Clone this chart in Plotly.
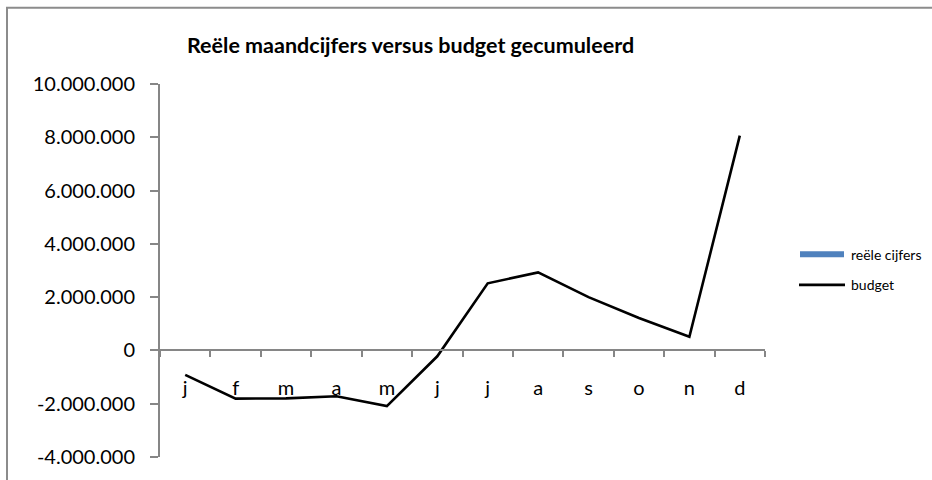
import plotly.graph_objects as go

# Months (Dutch initials) and cumulative figures
maanden = ["j", "f", "m", "a", "m", "j", "j", "a", "s", "o", "n", "d"]
reele_cijfers = [None] * 12
budget = [-920000, -1810000, -1800000, -1720000, -2090000, -220000,
          2520000, 2930000, 2000000, 1220000, 510000, 8060000]

y_ticks = [-4000000, -2000000, 0, 2000000, 4000000, 6000000, 8000000, 10000000]
y_tick_labels = ["-4.000.000", "-2.000.000", "0", "2.000.000", "4.000.000",
                 "6.000.000", "8.000.000", "10.000.000"]

W, H = 932, 480
L, R, T, B = 160, 167, 84, 19
PW, PH = W - L - R, H - T - B
Y_MIN, Y_MAX = -4000000, 10000000

FONT = "Lato"
AXIS_GREY = "#868686"


def px_x(px):
    return (px - L) / PW


def px_y(py):
    return 1 - (py - T) / PH


# month names repeat, so categories are keyed by position
cat_keys = [str(i) for i in range(len(maanden))]

fig = go.Figure()
fig.add_trace(go.Bar(x=cat_keys, y=reele_cijfers, name="reële cijfers",
                     marker_color="#4F81BD", showlegend=False))
fig.add_trace(go.Scatter(x=cat_keys, y=budget, name="budget", mode="lines",
                         line=dict(color="black", width=2.6), showlegend=False))

# horizontal axis crosses the vertical one at zero
zero_pos = (0 - Y_MIN) / (Y_MAX - Y_MIN)

fig.update_layout(
    width=W, height=H,
    margin=dict(l=L, r=R, t=T, b=B),
    plot_bgcolor="white", paper_bgcolor="white",
    font=dict(family=FONT, color="black"),
    xaxis=dict(
        type="category", range=[-0.5, 11.5],
        tickmode="array", tickvals=cat_keys, ticktext=maanden,
        tickson="boundaries",
        showgrid=False, zeroline=False,
        showline=True, linecolor=AXIS_GREY, linewidth=2,
        ticks="outside", ticklen=6, tickcolor=AXIS_GREY, tickwidth=2,
        anchor="free", position=zero_pos,
        tickfont=dict(size=20, family=FONT, color="black"),
        ticklabelstandoff=20,
    ),
    yaxis=dict(
        range=[Y_MIN, Y_MAX],
        tickmode="array", tickvals=y_ticks, ticktext=y_tick_labels,
        showgrid=False, zeroline=False,
        showline=True, linecolor=AXIS_GREY, linewidth=2,
        ticks="outside", ticklen=8, tickcolor=AXIS_GREY, tickwidth=2,
        tickfont=dict(size=20, family=FONT, color="black"),
        ticklabelstandoff=11,
    ),
    showlegend=False,
)

# Chart frame
fig.add_shape(type="rect", xref="paper", yref="paper",
              x0=px_x(7), x1=px_x(W + 20), y0=px_y(H + 20), y1=px_y(7),
              line=dict(color="#8c8c8c", width=2), fillcolor="rgba(0,0,0,0)",
              layer="below")

# Title
fig.add_annotation(text="<b>Reële maandcijfers versus budget gecumuleerd</b>",
                   xref="paper", yref="paper", x=px_x(410), y=px_y(45),
                   xanchor="center", yanchor="middle", showarrow=False,
                   font=dict(size=21.5, family=FONT, color="black"))

# Legend
fig.add_shape(type="rect", xref="paper", yref="paper",
              x0=px_x(800), x1=px_x(844), y0=px_y(259), y1=px_y(253),
              line=dict(width=0), fillcolor="#4F81BD")
fig.add_shape(type="line", xref="paper", yref="paper",
              x0=px_x(799), x1=px_x(845), y0=px_y(287), y1=px_y(287),
              line=dict(color="black", width=2.6))
for label, ypx in [("reële cijfers", 256), ("budget", 287)]:
    fig.add_annotation(text=label, xref="paper", yref="paper",
                       x=px_x(849), y=px_y(ypx), xanchor="left", yanchor="middle",
                       showarrow=False, font=dict(size=14, family=FONT, color="black"))

fig.write_html("out.html")
